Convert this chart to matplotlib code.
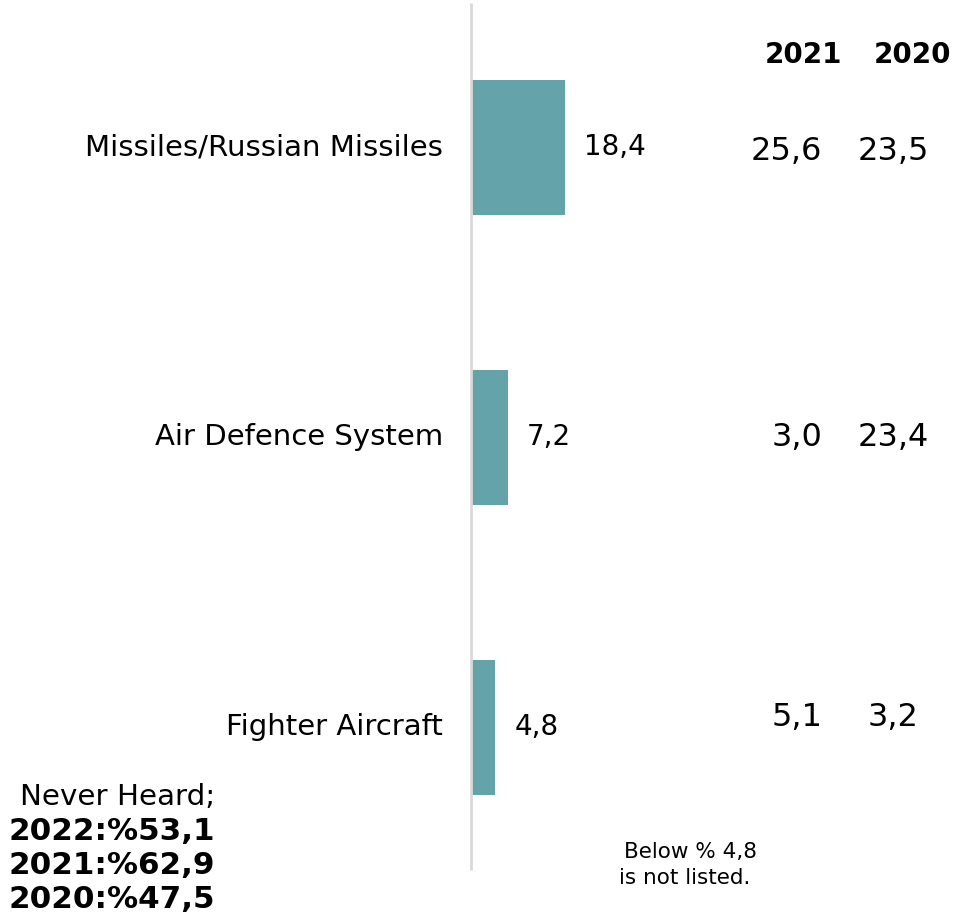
import matplotlib
matplotlib.use("Agg")
import matplotlib.pyplot as plt

categories = ["Missiles/Russian Missiles", "Air Defence System", "Fighter Aircraft"]
values_2022 = [18.4, 7.2, 4.8]
values_2021 = [25.6, 3.0, 5.1]
values_2020 = [23.5, 23.4, 3.2]
column_headers = ["2021", "2020"]
never_heard = ["2022:%53,1", "2021:%62,9", "2020:%47,5"]

def fmt(v):
    return f"{v:.1f}".replace(".", ",")

W, H = 957, 917
fig = plt.figure(figsize=(W / 100, H / 100), dpi=100)
ax = fig.add_axes([0, 0, 1, 1])
ax.axis("off")

px = 5.1  # pixels per unit
x0 = 471
ax.set_xlim(-x0 / px, (W - x0) / px)
y0, dy = 147, 290
ax.set_ylim((H - y0) / dy, -y0 / dy)

def X(p):
    return (p - x0) / px

def Y(p):
    return (p - y0) / dy

ypos = list(range(len(categories)))
ax.barh(ypos, values_2022, height=135 / dy, color="#65A3AA", zorder=2)
ax.vlines(0, Y(3), Y(870), color="#D9D9D9", lw=2, zorder=3)

for i, (c, v) in enumerate(zip(categories, values_2022)):
    ax.text(X(443), i, c, ha="right", va="center", fontsize=21)
    ax.annotate(fmt(v), (v, i), xytext=(14, 0), textcoords="offset points",
                ha="left", va="center", fontsize=20)

ax.text(X(803), Y(55), column_headers[0], ha="center", va="center", fontsize=20, fontweight="bold")
ax.text(X(912), Y(55), column_headers[1], ha="center", va="center", fontsize=20, fontweight="bold")

offs = [5, 0, -9]
for i in range(len(categories)):
    ax.text(X(822), i + offs[i] / dy, fmt(values_2021[i]), ha="right", va="center", fontsize=23)
    ax.text(X(893), i + offs[i] / dy, fmt(values_2020[i]), ha="center", va="center", fontsize=23)

ax.text(X(215), Y(797), "Never Heard;", ha="right", va="center", fontsize=21.2)
for k, s in enumerate(never_heard):
    ax.text(X(215), Y(831 + 34 * k), s, ha="right", va="center", fontsize=22.3, fontweight="bold")

ax.text(X(691), Y(852), "Below % 4,8", ha="center", va="center", fontsize=15.5)
ax.text(X(685), Y(878), "is not listed.", ha="center", va="center", fontsize=15.5)

fig.savefig("out.png", dpi=100)
